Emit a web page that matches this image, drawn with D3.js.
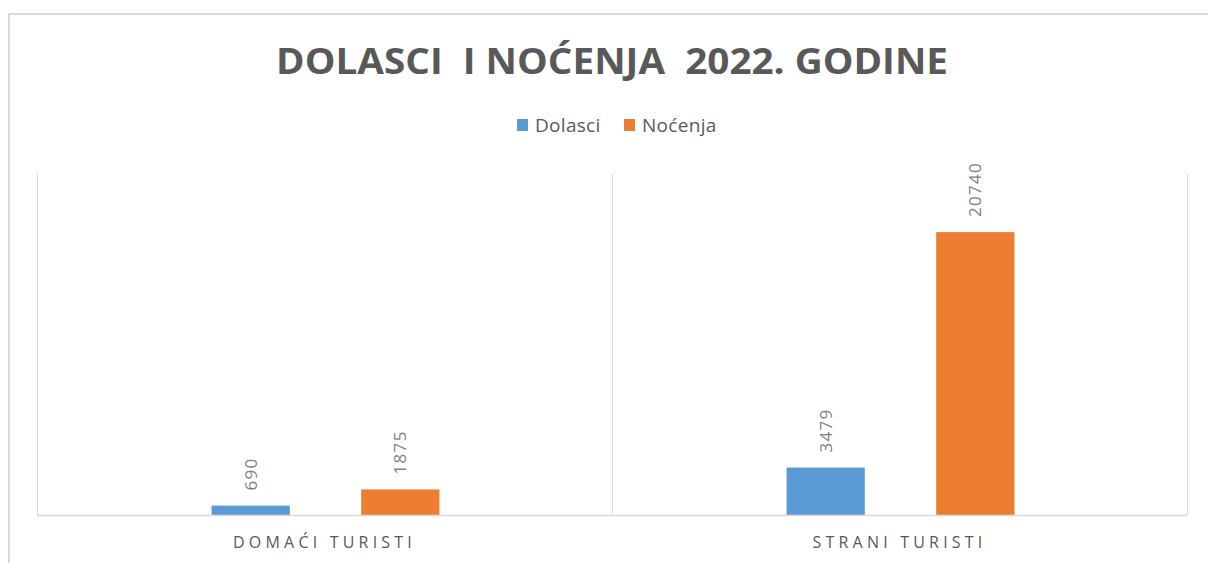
<!DOCTYPE html>
<html>
<head>
<meta charset="utf-8">
<script src="https://cdn.jsdelivr.net/npm/d3@7"></script>
<style>
  html, body { margin: 0; padding: 0; background: #fff; }
  svg { display: block; }
</style>
</head>
<body>
<svg id="chart" width="1208" height="563"></svg>
<script>
"use strict";

var title = "DOLASCI  I NOĆENJA  2022. GODINE";
var categories = ["DOMAĆI TURISTI", "STRANI TURISTI"];
var seriesNames = ["Dolasci", "Noćenja"];
var dolasci = [690, 3479];
var nocenja = [1875, 20740];
var yMax = 25000;

var colors = ["#5b9bd5", "#ed7d31"];
var textColor = "#595959";
var lineColor = "#d9d9d9";

var svg = d3.select("#chart");
var W = 1208, H = 563;
var m = {left: 37, right: 21, top: 174, bottom: 48};

// chart frame (partly cut off in the screenshot)
svg.append("line").attr("x1", 8).attr("x2", W).attr("y1", 14).attr("y2", 14)
    .attr("stroke", lineColor).attr("stroke-width", 2);
svg.append("line").attr("x1", 9).attr("x2", 9).attr("y1", 14).attr("y2", H)
    .attr("stroke", lineColor).attr("stroke-width", 2);

var x0 = d3.scaleBand().domain(categories).range([m.left, W - m.right]);
var x1 = d3.scaleBand().domain(seriesNames).range([0, x0.bandwidth()])
    .paddingInner(0.477).paddingOuter(1.16);
var y = d3.scaleLinear().domain([0, yMax]).range([H - m.bottom, m.top]);

// category separators
var seps = [m.left].concat(categories.map(c => x0(c) + x0.bandwidth()));
svg.append("g").selectAll("line").data(seps).enter().append("line")
    .attr("x1", d => d + 0.5).attr("x2", d => d + 0.5)
    .attr("y1", y(yMax)).attr("y2", y(0))
    .attr("stroke", lineColor).attr("stroke-width", 1);

var data = categories.map((c, i) => ({cat: c, vals: [dolasci[i], nocenja[i]]}));

var groups = svg.append("g").selectAll("g").data(data).enter().append("g")
    .attr("transform", d => "translate(" + (x0(d.cat) + 1) + ",0)");

var bars = groups.selectAll("rect")
    .data(d => d.vals.map((v, j) => ({name: seriesNames[j], v: v, j: j})))
    .enter();

bars.append("rect")
    .attr("x", d => x1(d.name))
    .attr("width", x1.bandwidth())
    .attr("y", d => y(d.v))
    .attr("height", d => y(0) - y(d.v))
    .attr("fill", d => colors[d.j]);

bars.append("text")
    .attr("transform", d => "translate(" + (x1(d.name) + x1.bandwidth() / 2 + 6) + "," + (y(d.v) - 15) + ") rotate(-90)")
    .attr("font-family", "Open Sans, sans-serif")
    .attr("font-size", 17)
    .attr("letter-spacing", 1.3)
    .attr("fill", "#7f7f7f")
    .text(d => d.v);

// baseline
svg.append("line").attr("x1", m.left).attr("x2", W - m.right)
    .attr("y1", y(0) + 0.5).attr("y2", y(0) + 0.5)
    .attr("stroke", lineColor).attr("stroke-width", 1.5);

// category axis
svg.append("g").selectAll("text").data(categories).enter().append("text")
    .attr("x", d => x0(d) + x0.bandwidth() / 2)
    .attr("y", 548)
    .attr("text-anchor", "middle")
    .attr("font-family", "Open Sans, sans-serif")
    .attr("font-size", 16)
    .attr("letter-spacing", 4.2)
    .attr("fill", textColor)
    .text(d => d);

// title
svg.append("text")
    .attr("x", 612).attr("y", 74)
    .attr("text-anchor", "middle")
    .attr("font-family", "Open Sans, sans-serif")
    .attr("font-weight", 700)
    .attr("font-size", 35)
    .attr("textLength", 672)
    .attr("lengthAdjust", "spacingAndGlyphs")
    .attr("fill", textColor)
    .style("white-space", "pre")
    .text(title);

// legend
var legend = svg.append("g");
var legX = [517, 624];
seriesNames.forEach((s, i) => {
    legend.append("rect").attr("x", legX[i]).attr("y", 119)
        .attr("width", 11).attr("height", 12).attr("fill", colors[i]);
    legend.append("text").attr("x", legX[i] + 18).attr("y", 132)
        .attr("font-family", "Open Sans, sans-serif")
        .attr("font-size", 19)
        .attr("letter-spacing", 0.3)
        .attr("fill", textColor)
        .text(s);
});
</script>
</body>
</html>
